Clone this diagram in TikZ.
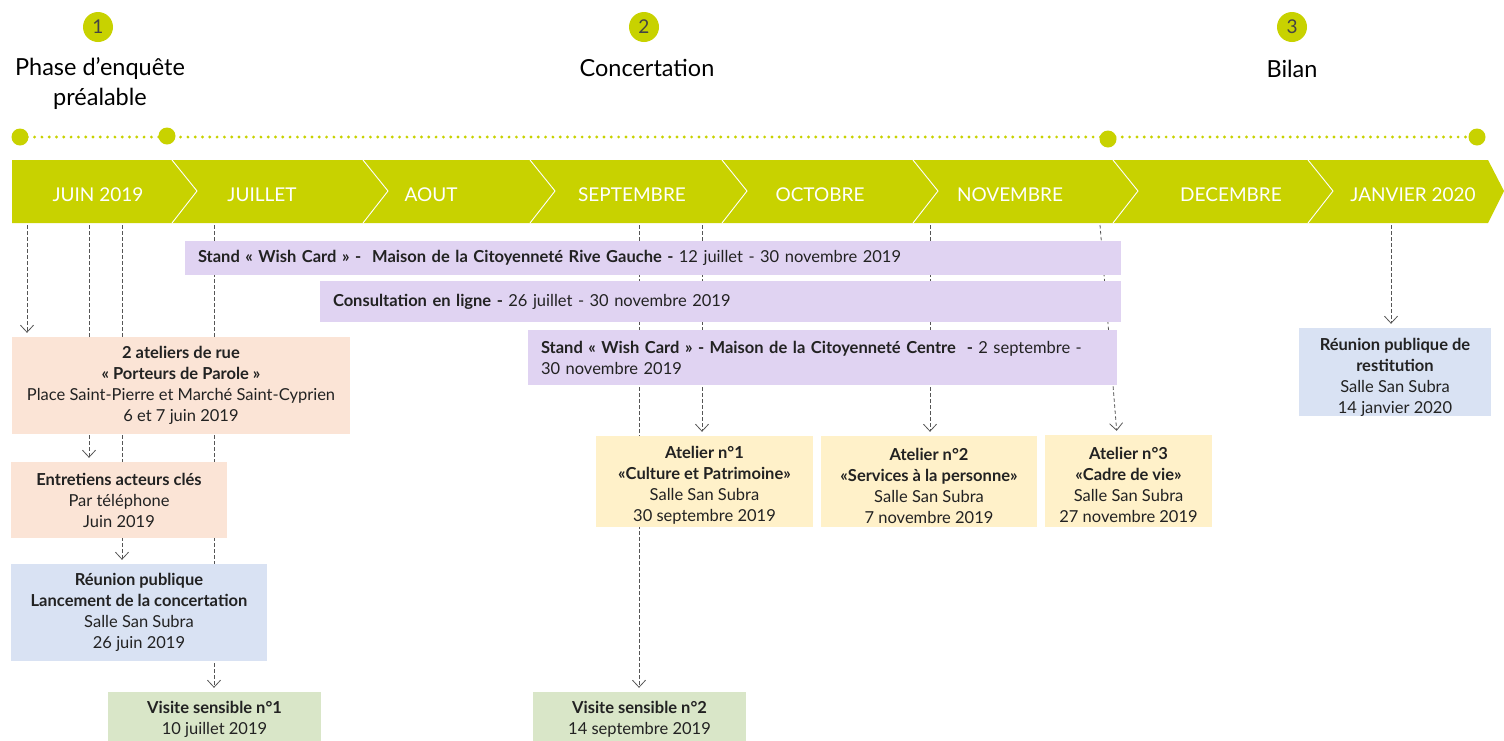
\documentclass[tikz,border=0pt]{standalone}
\usepackage{fontspec}
\setmainfont{Lato}
\usetikzlibrary{arrows.meta}
\definecolor{lime}{HTML}{C8D200}
\definecolor{purp}{HTML}{E0D3F2}
\definecolor{peach}{HTML}{FBE4D6}
\definecolor{bluebox}{HTML}{D9E2F3}
\definecolor{greenbox}{HTML}{D9E6C8}
\definecolor{yellowbox}{HTML}{FFF1C9}
\definecolor{txt}{HTML}{222222}
\definecolor{dashc}{HTML}{555555}
\definecolor{numc}{HTML}{444444}
\begin{document}
\begin{tikzpicture}[x=1pt,y=-1pt,
  box/.style={inner sep=0pt, align=center, font=\fontsize{16.5}{21}\selectfont, text=txt},
  pbox/.style={fill=purp, inner xsep=13pt, inner ysep=0pt, align=left, font=\fontsize{16.5}{21}\selectfont, text=txt},
  month/.style={text=white, font=\fontsize{19}{20}\selectfont},
  phase/.style={text=black, align=center, font=\fontsize{23.5}{30}\selectfont},
  numdot/.style={circle, fill=lime, minimum size=30pt, inner sep=0pt, text=numc, font=\fontsize{19}{20}\selectfont},
  bigdot/.style={circle, fill=lime, minimum size=17pt, inner sep=0pt},
  chev/.style={white, line width=0.9pt},
  arr/.style={dashc, line width=0.8pt, dash pattern=on 3.5pt off 2.5pt, shorten >=4pt,
    -{Straight Barb[length=7pt,width=13pt,line width=0.8pt]}}]
\useasboundingbox (0,0) rectangle (1504,740);

% phase numbers and titles
\node[numdot] (n1) at (98,27) {1};
\node[numdot] (n2) at (644,27) {2};
\node[numdot] (n3) at (1292,27) {3};
\node[phase] (p1) at (100,84) {Phase d’enquête\\préalable};
\node[phase] (p2) at (647,68) {Concertation};
\node[phase] (p3) at (1292,69) {Bilan};

% dotted phase line
\draw[lime, line width=3.2pt, line cap=round, dash pattern=on 0pt off 7.3pt] (20,137) -- (1477,137);
\node[bigdot] (d1) at (20,137) {};
\node[bigdot] (d2) at (167,136) {};
\node[bigdot] (d3) at (1108,139) {};
\node[bigdot] (d4) at (1477,137) {};

% month band
\fill[lime] (12,160) -- (1488,160) -- (1504,191) -- (1488,223) -- (12,223) -- cycle;
\foreach \x in {172,363,530,722,913,1113,1308}{
  \draw[chev] (\x,160) -- (\x+25,191) -- (\x,223);
}
\node[month] (m1) at (98,195) {JUIN 2019};
\node[month] (m2) at (262,195) {JUILLET};
\node[month] (m3) at (431,195) {AOUT};
\node[month] (m4) at (632,195) {SEPTEMBRE};
\node[month] (m5) at (820,195) {OCTOBRE};
\node[month] (m6) at (1010,195) {NOVEMBRE};
\node[month] (m7) at (1231,195) {DECEMBRE};
\node[month] (m8) at (1413,195) {JANVIER 2020};

% arrow start points
\coordinate (a1) at (27,225);
\coordinate (a2) at (89,225);
\coordinate (a3) at (122,225);
\coordinate (a4) at (214,225);
\coordinate (a5) at (639,225);
\coordinate (a6) at (702,225);
\coordinate (a7) at (930,225);
\coordinate (a8) at (1100,225);
\coordinate (a9) at (1391,225);

% box frames (positions); the filled boxes are drawn over the arrows below
\path
  node[box, minimum width=338pt, minimum height=97pt] (rue) at (181,385.5) {}
  node[box, minimum width=216pt, minimum height=76pt] (ent) at (119,500) {}
  node[box, minimum width=256pt, minimum height=97pt] (reu) at (139,612.5) {}
  node[box, minimum width=213pt, minimum height=54pt] (vis1) at (214.5,719) {}
  node[box, minimum width=213pt, minimum height=54pt] (vis2) at (639.5,719) {}
  node[box, minimum width=217pt, minimum height=91pt] (at1) at (704.5,481.5) {}
  node[box, minimum width=216pt, minimum height=91pt] (at2) at (929,481.5) {}
  node[box, minimum width=167pt, minimum height=92pt] (at3) at (1128.5,481) {}
  node[box, minimum width=192pt, minimum height=88pt] (rest) at (1395,372) {};

% dashed arrows
\draw[arr] (a1) -- (a1 |- rue.north);
\draw[arr] (a2) -- (a2 |- ent.north);
\draw[arr] (a3) -- (a3 |- reu.north);
\draw[arr] (a4) -- (a4 |- vis1.north);
\draw[arr] (a5) -- (a5 |- vis2.north);
\draw[arr] (a6) -- (a6 |- at1.north);
\draw[arr] (a7) -- (a7 |- at2.north);
\draw[arr] (a8) -- ([xshift=-11.5pt]at3.north);
\draw[arr] (a9) -- (a9 |- rest.north);

% purple bars
\node[pbox, minimum width=936pt, minimum height=34pt, text width=910pt] (wishrg) at (653,258)
  {\textbf{Stand « Wish Card » -~ Maison de la Citoyenneté Rive Gauche -} 12 juillet - 30 novembre 2019};
\node[pbox, minimum width=801pt, minimum height=41pt, text width=775pt] (cons) at (720.5,301.5)
  {\textbf{Consultation en ligne -} 26 juillet - 30 novembre 2019};
\node[pbox, minimum width=589pt, minimum height=55pt, text width=563pt] (wishc) at (822.5,357.5)
  {\textbf{Stand « Wish Card » - Maison de la Citoyenneté Centre~ -} 2 septembre -\\30 novembre 2019};

% filled boxes
\node[box, fill=peach, minimum width=338pt, minimum height=97pt] (ruef) at (rue) {\textbf{2 ateliers de rue}\\\textbf{« Porteurs de Parole »}\\Place Saint-Pierre et Marché Saint-Cyprien\\6 et 7 juin 2019};
\node[box, fill=peach, minimum width=216pt, minimum height=76pt] (entf) at (ent) {\textbf{Entretiens acteurs clés}\\Par téléphone\\Juin 2019};
\node[box, fill=bluebox, minimum width=256pt, minimum height=97pt] (reuf) at (reu) {\textbf{Réunion publique}\\\textbf{Lancement de la concertation}\\Salle San Subra\\26 juin 2019};
\node[box, fill=greenbox, minimum width=213pt, minimum height=54pt] (vis1f) at (vis1) {\textbf{Visite sensible n°1}\\10 juillet 2019};
\node[box, fill=greenbox, minimum width=213pt, minimum height=54pt] (vis2f) at (vis2) {\textbf{Visite sensible n°2}\\14 septembre 2019};
\node[box, fill=yellowbox, minimum width=217pt, minimum height=91pt] (at1f) at (at1) {};
\node[box, fill=yellowbox, minimum width=216pt, minimum height=91pt] (at2f) at (at2) {};
\node[box, fill=yellowbox, minimum width=167pt, minimum height=92pt] (at3f) at (at3) {};
\node[box, fill=bluebox, minimum width=192pt, minimum height=88pt] (restf) at (rest) {};
\node[box] (at1t) at ([yshift=-4pt]at1) {\textbf{Atelier n°1}\\\textbf{«Culture et Patrimoine»}\\Salle San Subra\\30 septembre 2019};
\node[box] (at2t) at ([yshift=-4pt]at2) {\textbf{Atelier n°2}\\\textbf{«Services à la personne»}\\Salle San Subra\\7 novembre 2019};
\node[box] (at3t) at ([yshift=-4pt]at3) {\textbf{Atelier n°3}\\\textbf{«Cadre de vie»}\\Salle San Subra\\27 novembre 2019};
\node[box] (restt) at ([yshift=-5pt]rest) {\textbf{Réunion publique de}\\\textbf{restitution}\\Salle San Subra\\14 janvier 2020};
\end{tikzpicture}
\end{document}
